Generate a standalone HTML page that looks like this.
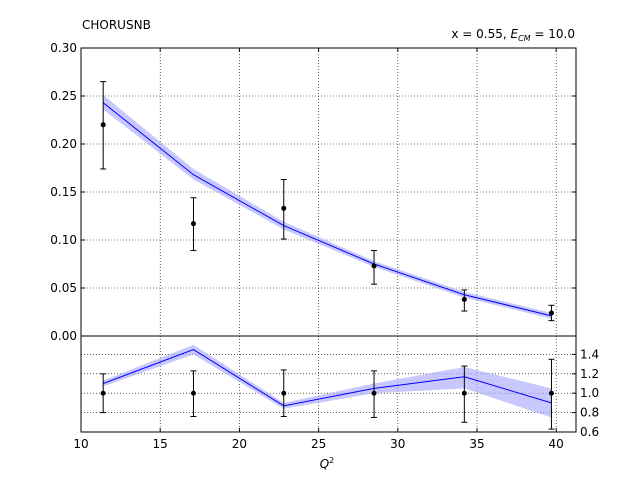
<!DOCTYPE html>
<html><head><meta charset="utf-8"><style>
body{margin:0;background:#fff;width:640px;height:480px;overflow:hidden}
text{font-family:"DejaVu Sans","Liberation Sans",sans-serif;font-size:12px;fill:#000}
</style></head><body>
<svg id="chart" width="640" height="480" xmlns="http://www.w3.org/2000/svg"></svg>
<script>
const qValues=[11.4,17.1,22.8,28.5,34.2,39.7];
const dataValues=[0.220,0.117,0.133,0.073,0.038,0.024];
const dataLow=[0.174,0.089,0.101,0.054,0.026,0.016];
const dataHigh=[0.265,0.144,0.163,0.089,0.048,0.032];
const theoryValues=[0.243,0.168,0.115,0.075,0.043,0.021];
const theoryLow=[0.236,0.163,0.111,0.072,0.040,0.018];
const theoryHigh=[0.251,0.174,0.119,0.078,0.046,0.024];
const ratioTheory=[1.10,1.45,0.87,1.05,1.17,0.90];
const ratioTheoryLow=[1.07,1.40,0.84,1.00,1.05,0.75];
const ratioTheoryHigh=[1.13,1.50,0.90,1.10,1.27,1.05];
const ratioErrLow=[0.80,0.76,0.76,0.75,0.70,0.63];
const ratioErrHigh=[1.20,1.23,1.24,1.23,1.28,1.35];
const xTicks=[10,15,20,25,30,35,40];
const yTicks=[0.00,0.05,0.10,0.15,0.20,0.25,0.30];
const rTicks=[0.6,0.8,1.0,1.2,1.4];

const svg=document.getElementById('chart');
const NS='http://www.w3.org/2000/svg';
const L=81,R=576,T=48,M=336,B=432;
const X=v=>L+(v-10)*(R-L)/31.25;
const Y=v=>M-v*(M-T)/0.30;
const RY=v=>B-(v-0.6)*(B-M)/0.99;
function el(tag,attrs,parent){const e=document.createElementNS(NS,tag);for(const k in attrs)e.setAttribute(k,attrs[k]);(parent||svg).appendChild(e);return e;}

// grids
xTicks.forEach(t=>{
 const g=el('line',{x1:X(t),x2:X(t),y1:T,y2:M,stroke:'#000','stroke-dasharray':'1,2','stroke-width':0.6});
 
 const g2=el('line',{x1:X(t),x2:X(t),y1:M,y2:B,stroke:'#000','stroke-dasharray':'1,2','stroke-width':0.6});
 
 const tk=el('text',{x:X(t),y:B+16,'text-anchor':'middle'});tk.textContent=t;
 
 el('line',{x1:X(t),x2:X(t),y1:B,y2:B-4,stroke:'#000'});
 el('line',{x1:X(t),x2:X(t),y1:T,y2:T+4,stroke:'#000'});
});
yTicks.forEach(t=>{
 const g=el('line',{x1:L,x2:R,y1:Y(t),y2:Y(t),stroke:'#000','stroke-dasharray':'1,2','stroke-width':0.6});
 
 const tk=el('text',{x:L-4,y:Y(t)+4,'text-anchor':'end'});tk.textContent=t.toFixed(2);
 
 el('line',{x1:L,x2:L+4,y1:Y(t),y2:Y(t),stroke:'#000'});
 el('line',{x1:R,x2:R-4,y1:Y(t),y2:Y(t),stroke:'#000'});
});
rTicks.forEach(t=>{
 const g=el('line',{x1:L,x2:R,y1:RY(t),y2:RY(t),stroke:'#000','stroke-dasharray':'1,2','stroke-width':0.6});
 
 const tk=el('text',{x:R+4,y:RY(t)+4});tk.textContent=t.toFixed(1);
 
 el('line',{x1:R,x2:R-4,y1:RY(t),y2:RY(t),stroke:'#000'});
});

function band(xs,lo,hi,fy,name){
 let d='M'+xs.map((x,i)=>X(x)+','+fy(hi[i])).join('L');
 d+='L'+xs.map((x,i)=>X(x)+','+fy(lo[i])).reverse().join('L')+'Z';
 const p=el('path',{d:d,fill:'#aaaaff',opacity:0.65});
 
}
function line(xs,ys,fy,name){
 const p=el('polyline',{points:xs.map((x,i)=>X(x)+','+fy(ys[i])).join(' '),fill:'none',stroke:'#0000ff','stroke-width':1});
 
}
band(qValues,theoryLow,theoryHigh,Y,'theory-band');
line(qValues,theoryValues,Y,'theory-line');
band(qValues,ratioTheoryLow,ratioTheoryHigh,RY,'ratio-band');
line(qValues,ratioTheory,RY,'ratio-line');

function errbar(x,lo,hi,v,fy,name){
 const g=el('g',{});
 
 el('line',{x1:X(x),x2:X(x),y1:fy(lo),y2:fy(hi),stroke:'#000'},g);
 el('line',{x1:X(x)-3,x2:X(x)+3,y1:fy(lo),y2:fy(lo),stroke:'#000'},g);
 el('line',{x1:X(x)-3,x2:X(x)+3,y1:fy(hi),y2:fy(hi),stroke:'#000'},g);
 el('circle',{cx:X(x),cy:fy(v),r:2.5,fill:'#000'},g);
}
qValues.forEach((q,i)=>{
 errbar(q,dataLow[i],dataHigh[i],dataValues[i],Y,'data-point');
 errbar(q,ratioErrLow[i],ratioErrHigh[i],1.0,RY,'ratio-point');
});

const f1=el('rect',{x:L,y:T,width:R-L,height:M-T,fill:'none',stroke:'#000'});

const f2=el('rect',{x:L,y:M,width:R-L,height:B-M,fill:'none',stroke:'#000'});


const t1=el('text',{x:82,y:29});t1.textContent='CHORUSNB';

const t2=el('text',{x:575,y:38,'text-anchor':'end'});
t2.innerHTML='x = 0.55, <tspan font-style="italic">E</tspan><tspan font-style="italic" font-size="8" dy="3">CM</tspan><tspan dy="-3"> = 10.0</tspan>';

const xl=el('text',{x:327,y:468,'text-anchor':'middle'});
xl.innerHTML='<tspan font-style="italic">Q</tspan><tspan font-size="8" dy="-5">2</tspan>';

</script>
</body></html>
